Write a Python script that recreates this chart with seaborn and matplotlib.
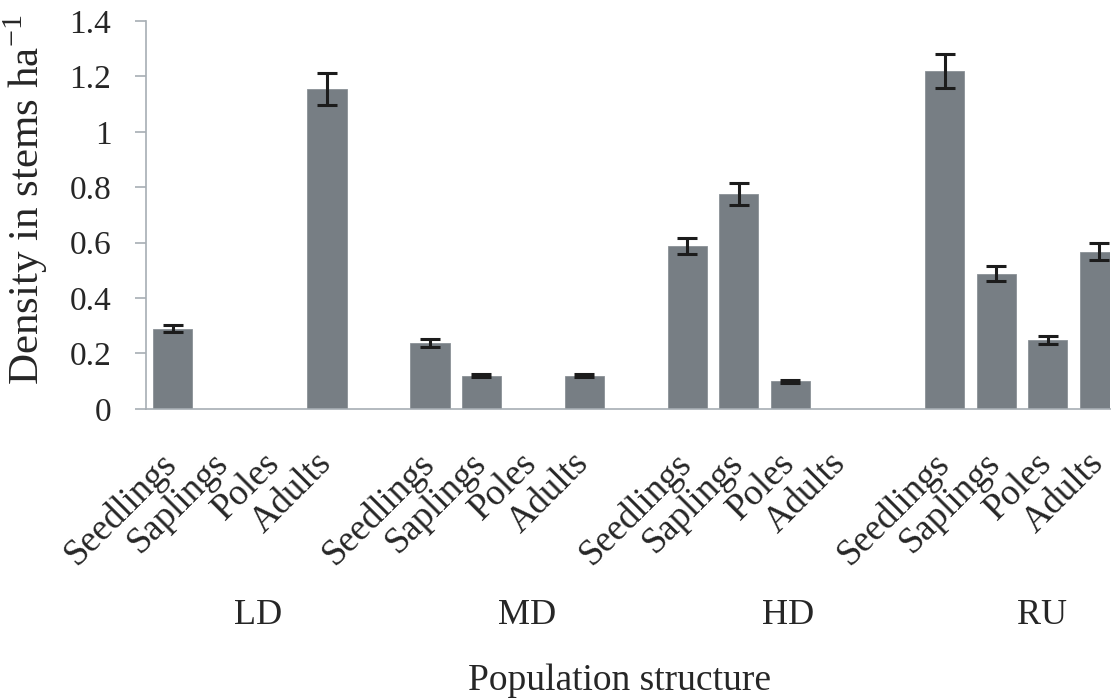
import seaborn as sns
import matplotlib.pyplot as plt
from matplotlib.transforms import ScaledTranslation
import pandas as pd


# Dati
groups = ['LD', 'MD', 'HD', 'RU']
stages = ['Seedlings', 'Saplings', 'Poles', 'Adults']

ld_values = [0.29, 0.0, 0.0, 1.155]
md_values = [0.237, 0.12, 0.0, 0.12]
hd_values = [0.588, 0.776, 0.099, 0.0]
ru_values = [1.22, 0.488, 0.248, 0.568]

ld_errors = [0.013, 0.0, 0.0, 0.059]
md_errors = [0.014, 0.005, 0.0, 0.005]
hd_errors = [0.03, 0.04, 0.005, 0.0]
ru_errors = [0.062, 0.026, 0.015, 0.029]

y_ticks = [0, 0.2, 0.4, 0.6, 0.8, 1.0, 1.2, 1.4]

BAR_COLOR = '#777e84'
SPINE_COLOR = '#a7aeb4'


def build_frame():
    values = [ld_values, md_values, hd_values, ru_values]
    errors = [ld_errors, md_errors, hd_errors, ru_errors]
    rows = []
    for g, group in enumerate(groups):
        for s, stage in enumerate(stages):
            # uno spazio vuoto tra i gruppi, come nel grafico originale
            rows.append({'Group': group, 'Stage': stage, 'Pos': g * 5 + s,
                         'Value': values[g][s], 'Err': errors[g][s]})
    return pd.DataFrame(rows)


def create_chart(df):
    sns.set_style('white')
    plt.rcParams['font.family'] = ['Liberation Serif', 'DejaVu Serif']
    plt.rcParams['mathtext.fontset'] = 'custom'
    plt.rcParams['mathtext.rm'] = 'Liberation Serif'

    fig = plt.figure(figsize=(11.19, 6.99), dpi=100)
    ax = fig.add_axes([0.1305, 0.415, 0.8615, 0.555])

    sns.barplot(data=df, x='Pos', y='Value', native_scale=True, width=0.76,
                color=BAR_COLOR, edgecolor='#8b9197', linewidth=0.6,
                saturation=1, errorbar=None, ax=ax)

    # Barre di errore
    shown = df[df['Value'] > 0]
    ax.errorbar(shown['Pos'], shown['Value'], yerr=shown['Err'], fmt='none',
                ecolor='#1c1c1c', elinewidth=2.2, capsize=7, capthick=2.2, zorder=5)

    ax.set_xlim(-0.515, 18.21)
    ax.set_ylim(0, 1.4)
    ax.set_yticks(y_ticks)
    ax.set_yticklabels([f'{v:g}' for v in y_ticks], fontsize=24)
    ax.tick_params(axis='y', left=True, direction='out', length=8, width=1.2,
                   color=SPINE_COLOR, pad=17)

    ax.set_xticks(df['Pos'])
    ax.set_xticklabels(df['Stage'], fontsize=26.5, rotation=45, ha='right',
                       va='top', rotation_mode='anchor')
    ax.tick_params(axis='x', length=0, pad=36)
    shift = ScaledTranslation(-9.5 / 72, 9.5 / 72, fig.dpi_scale_trans)
    for lab in ax.get_xticklabels():
        lab.set_transform(lab.get_transform() + shift)

    for side in ['top', 'right']:
        ax.spines[side].set_visible(False)
    for side in ['left', 'bottom']:
        ax.spines[side].set_color(SPINE_COLOR)
        ax.spines[side].set_linewidth(1.2)

    ax.set_xlabel('')
    ax.set_ylabel('')

    # Etichette dei gruppi
    label_pos = [1.66, 6.89, 11.96, 16.89]
    for x, group in zip(label_pos, groups):
        ax.text(x, -0.745, group, fontsize=26, ha='center', va='center')

    fig.text(0.554, 0.0129, 'Population structure', fontsize=27,
             ha='center', va='baseline')
    fig.text(0.023, 0.714, 'Density in stems ha$^{\\mathrm{-1}}$', fontsize=31,
             rotation=90, ha='center', va='center')

    plt.savefig('out.png', dpi=100)
    plt.close()


def main():
    df = build_frame()
    create_chart(df)


if __name__ == '__main__':
    main()
